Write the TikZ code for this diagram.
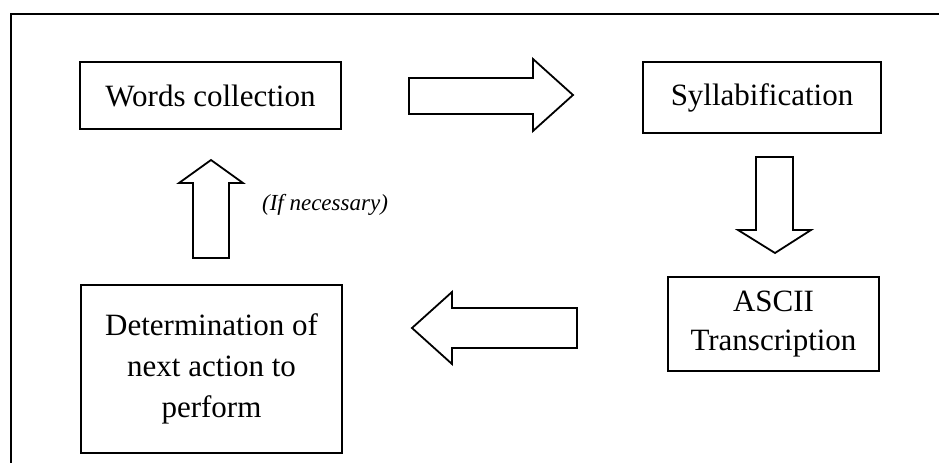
\documentclass[tikz,border=0pt]{standalone}
\usepackage{fontspec}
\setmainfont{Liberation Serif}
\begin{document}
\begin{tikzpicture}[x=1pt,y=-1pt,
  stagebox/.style={draw=black, line width=1.8pt, inner sep=0pt, align=center,
    font=\fontsize{31}{41}\selectfont},
  blockarrow/.style={draw=black, line width=1.8pt, line join=miter, fill=white},
  note/.style={font=\fontsize{23}{27}\selectfont\itshape}]
\useasboundingbox[fill=white] (0,0) rectangle (939,463);

% outer frame (top and left edges)
\draw[line width=1.8pt] (939,14) -- (11,14) -- (11,463);

% process stages
\node[stagebox, minimum width=261pt, minimum height=67pt] (words) at (210.5,95.5) {Words collection};
\node[stagebox, minimum width=238pt, minimum height=71pt] (syll) at (762,97.5) {Syllabification};
\node[stagebox, minimum width=211pt, minimum height=94pt] (ascii) at (773.5,324) {ASCII\\[-2pt]Transcription};
\node[stagebox, minimum width=261pt, minimum height=168pt] (determ) at (211.5,369) {Determination of\\next action to\\perform};

% block arrows between stages
\draw[blockarrow] (409,78) -- (533,78) -- (533,59) -- (573,95) -- (533,131) -- (533,114) -- (409,114) -- cycle;
\draw[blockarrow] (756,157) -- (793,157) -- (793,230) -- (811,230) -- (775,253) -- (738,230) -- (756,230) -- cycle;
\draw[blockarrow] (577,308) -- (452,308) -- (452,292) -- (412,328) -- (452,364) -- (452,348) -- (577,348) -- cycle;
\draw[blockarrow] (193,258) -- (193,183) -- (179,183) -- (211,160) -- (243,183) -- (229,183) -- (229,258) -- cycle;

\node[note] (cond) at (325,205) {(If necessary)};
\end{tikzpicture}
\end{document}
